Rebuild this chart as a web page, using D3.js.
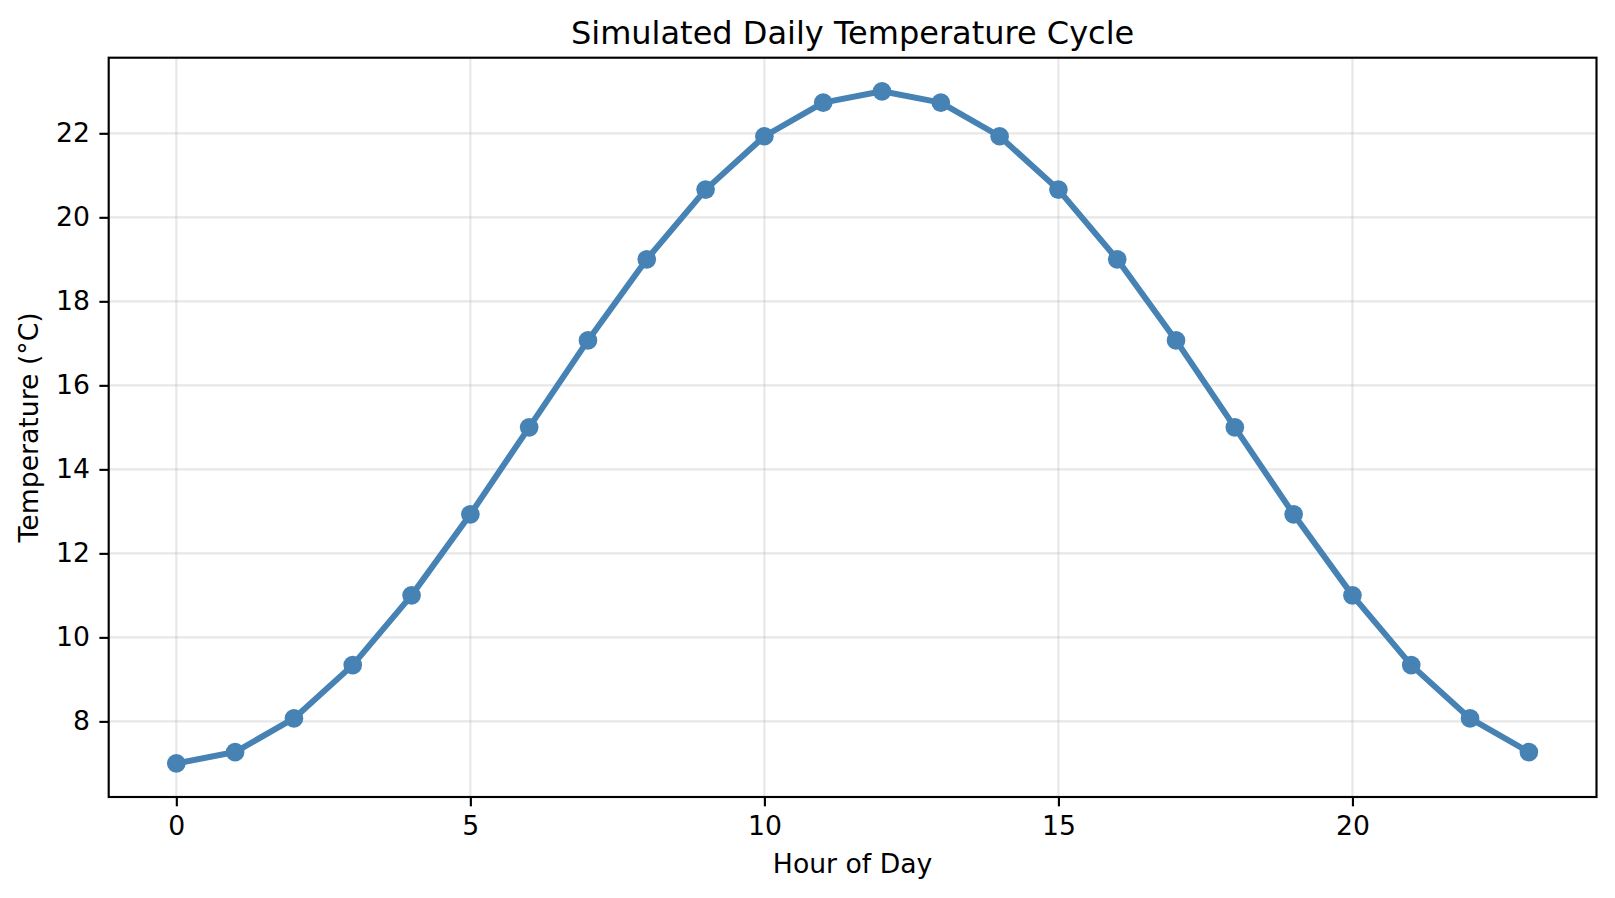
<!DOCTYPE html>
<html lang="en">
    <head>
        <meta charset="UTF-8">
        <title>Simulated Daily Temperature Cycle</title>
        <script type="text/javascript" src="https://d3js.org/d3.v7.min.js"></script>
        <style>
         body { margin: 0; background: #fff; font-family: "DejaVu Sans", sans-serif; }
        </style>
    </head>

    <body>
      <div id="svgcontainer"></div>
        <script>
            // data
            const hours = [0, 1, 2, 3, 4, 5, 6, 7, 8, 9, 10, 11, 12, 13, 14, 15, 16, 17, 18, 19, 20, 21, 22, 23];
            const temps = [7.0, 7.27, 8.07, 9.34, 11.0, 12.93, 15.0, 17.07, 19.0, 20.66, 21.93, 22.73,
                           23.0, 22.73, 21.93, 20.66, 19.0, 17.07, 15.0, 12.93, 11.0, 9.34, 8.07, 7.27];
            const xTicks = [0, 5, 10, 15, 20];
            const yTicks = [8, 10, 12, 14, 16, 18, 20, 22];

            const width = 1615, height = 898;
            const margin = { left: 108.7, right: 1615 - 1596.5, top: 57.7, bottom: 898 - 797 };

            const svg = d3.select("#svgcontainer")
                .append("svg")
                .attr("width", width)
                .attr("height", height);

            // matplotlib style 5% margins
            const x = d3.scaleLinear()
                .domain([-1.15, 24.15])
                .range([margin.left, width - margin.right]);
            const y = d3.scaleLinear()
                .domain([6.2, 23.8])
                .range([height - margin.bottom, margin.top]);

            const pt = 192 / 72;      // px per point
            const tickLen = 3.5 * pt;
            const fontSize = 10 * pt;

            // grid
            const grid = svg.append("g");
            grid.selectAll(".gx")
                .data(xTicks)
                .enter().append("line")
                .attr("x1", d => x(d)).attr("x2", d => x(d))
                .attr("y1", margin.top).attr("y2", height - margin.bottom)
                .attr("stroke", "#b0b0b0").attr("stroke-opacity", 0.3)
                .attr("stroke-width", 0.8 * pt);
            grid.selectAll(".gy")
                .data(yTicks)
                .enter().append("line")
                .attr("y1", d => y(d)).attr("y2", d => y(d))
                .attr("x1", margin.left).attr("x2", width - margin.right)
                .attr("stroke", "#b0b0b0").attr("stroke-opacity", 0.3)
                .attr("stroke-width", 0.8 * pt);

            // line + markers
            const pts = hours.map((h, i) => ({ h: h, t: temps[i] }));
            const line = d3.line()
                .x(d => x(d.h))
                .y(d => y(d.t));

            svg.append("path")
                .datum(pts)
                .attr("d", line)
                .attr("fill", "none")
                .attr("stroke", "steelblue")
                .attr("stroke-width", 6)
                .attr("stroke-linejoin", "round")
                .attr("stroke-linecap", "square");

            svg.selectAll("circle")
                .data(pts)
                .enter().append("circle")
                .attr("cx", d => x(d.h))
                .attr("cy", d => y(d.t))
                .attr("r", 3.5 * pt)
                .style("fill", "steelblue");

            // axes
            const xAxis = d3.axisBottom(x)
                .tickValues(xTicks)
                .tickSize(tickLen)
                .tickPadding(3.5 * pt)
                .tickFormat(d3.format("d"));
            const yAxis = d3.axisLeft(y)
                .tickValues(yTicks)
                .tickSize(tickLen)
                .tickPadding(3.5 * pt)
                .tickFormat(d3.format("d"));

            const gx = svg.append("g")
                .attr("transform", `translate(0,${height - margin.bottom})`)
                .call(xAxis);
            const gy = svg.append("g")
                .attr("transform", `translate(${margin.left},0)`)
                .call(yAxis);

            [gx, gy].forEach(g => {
                g.select(".domain").remove();
                g.selectAll(".tick line").attr("stroke", "#000").attr("stroke-width", 0.8 * pt);
                g.selectAll(".tick text")
                    .attr("fill", "#000")
                    .style("font-family", "DejaVu Sans")
                    .style("font-size", fontSize + "px");
            });

            // frame
            svg.append("rect")
                .attr("x", margin.left)
                .attr("y", margin.top)
                .attr("width", width - margin.left - margin.right)
                .attr("height", height - margin.top - margin.bottom)
                .attr("fill", "none")
                .attr("stroke", "#000")
                .attr("stroke-width", 0.8 * pt);

            // texts
            svg.append("text")
                .attr("x", (margin.left + width - margin.right) / 2)
                .attr("y", 44)
                .attr("text-anchor", "middle")
                .style("font-size", 12 * pt + "px")
                .text("Simulated Daily Temperature Cycle");

            svg.append("text")
                .attr("x", (margin.left + width - margin.right) / 2)
                .attr("y", 873)
                .attr("text-anchor", "middle")
                .style("font-size", fontSize + "px")
                .text("Hour of Day");

            svg.append("text")
                .attr("transform", `translate(38,${(margin.top + height - margin.bottom) / 2}) rotate(-90)`)
                .attr("text-anchor", "middle")
                .style("font-size", fontSize + "px")
                .text("Temperature (°C)");
        </script>
    </body>
</html>
